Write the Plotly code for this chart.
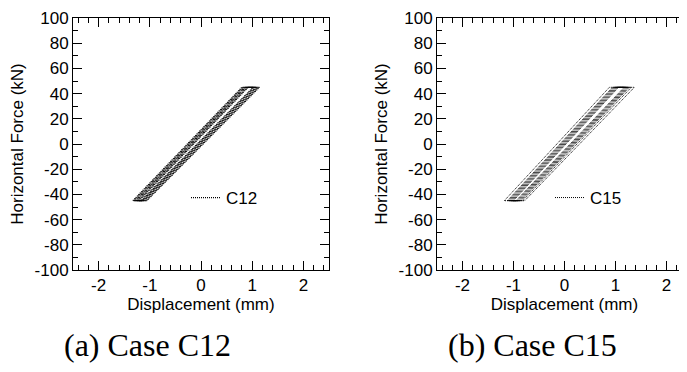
import plotly.graph_objects as go

# ---- data (one loop per entry) ----
# corner displacements (mm) of each hysteresis loop
c12_bottom_left = [-1.33, -1.31, -1.28, -1.26, -1.23, -1.21]
c12_top_left = [0.80, 0.82, 0.85, 0.87, 0.90, 0.92]
c12_top_right = [1.14, 1.12, 1.09, 1.07, 1.04, 1.02]
c12_bottom_right = [-1.06, -1.08, -1.11, -1.13, -1.15, -1.17]
c12_force_max = [45, 45, 45, 45, 45, 45]
c12_force_min = [-45, -45, -45, -45, -45, -45]

c15_bottom_left = [-1.18, -1.12, -1.10, -1.08, -1.06, -1.04, -1.02, -1.00]
c15_top_left = [0.88, 0.94, 0.96, 0.98, 1.00, 1.02, 1.04, 1.06]
c15_top_right = [1.37, 1.31, 1.27, 1.25, 1.23, 1.21, 1.19, 1.17]
c15_bottom_right = [-0.78, -0.82, -0.85, -0.87, -0.89, -0.91, -0.93, -0.95]
c15_force_max = [45, 45, 45, 45, 45, 45, 45, 45]
c15_force_min = [-45, -45, -45, -45, -45, -45, -45, -45]

series_names = ["C12", "C15"]
captions = ["(a) Case C12", "(b) Case C15"]
x_title = "Displacement (mm)"
y_title = "Horizontal Force (kN)"
x_tick_vals = [-2, -1, 0, 1, 2]
x_tick_text = ["-2", "-1", "0", "1", "2"]
y_tick_vals = [-100, -80, -60, -40, -20, 0, 20, 40, 60, 80, 100]
y_tick_text = ["-100", "-80", "-60", "-40", "-20", "0", "20", "40", "60", "80", "100"]


def loops(bl, tl, tr, br, fmax, fmin):
    xs, ys = [], []
    for a, b, c, d, hi, lo in zip(bl, tl, tr, br, fmax, fmin):
        xs += [a, b, c, d, a, None]
        ys += [lo, hi, hi, lo, lo, None]
    return xs, ys


W, H = 687, 372
OFF = 8  # page body margin
fig = go.Figure()

x12, y12 = loops(c12_bottom_left, c12_top_left, c12_top_right, c12_bottom_right,
                 c12_force_max, c12_force_min)
x15, y15 = loops(c15_bottom_left, c15_top_left, c15_top_right, c15_bottom_right,
                 c15_force_max, c15_force_min)

fig.add_trace(go.Scatter(x=x12, y=y12, mode="lines",
                         line=dict(color="black", width=1.3, dash="1px,1px"),
                         name=series_names[0], xaxis="x", yaxis="y", legend="legend"))
fig.add_trace(go.Scatter(x=x15, y=y15, mode="lines",
                         line=dict(color="black", width=1, dash="1px,1px"),
                         name=series_names[1], xaxis="x2", yaxis="y2", legend="legend2"))

font = dict(family="Liberation Sans, Arial, sans-serif", size=17, color="black")


def px_x(p):
    return (p - OFF) / W


def px_y(p):
    return (H - (p - OFF)) / H


def xaxis(domain, rng, anchor):
    return dict(domain=domain, range=rng, anchor=anchor,
                tickmode="array", tickvals=x_tick_vals, ticktext=x_tick_text,
                ticks="inside", ticklen=9, tickwidth=1, tickcolor="black",
                minor=dict(dtick=0.2, tick0=0, ticks="inside", ticklen=5,
                           tickcolor="black", showgrid=False),
                showline=True, linecolor="black", linewidth=1, mirror="ticks",
                showgrid=False, zeroline=False, tickfont=font,
                title=dict(text=x_title, font=font, standoff=0),
                automargin=False)


def yaxis(domain, anchor):
    return dict(domain=domain, range=[-100, 100], anchor=anchor,
                tickmode="array", tickvals=y_tick_vals, ticktext=y_tick_text,
                ticks="inside", ticklen=9, tickwidth=1, tickcolor="black",
                minor=dict(dtick=10, tick0=0, ticks="inside", ticklen=5,
                           tickcolor="black", showgrid=False),
                showline=True, linecolor="black", linewidth=1, mirror="ticks",
                showgrid=False, zeroline=False, tickfont=font,
                title=dict(text=y_title, font=font, standoff=6),
                automargin=False)


ydom = [px_y(270), px_y(18)]
fig.update_layout(
    width=W, height=H,
    margin=dict(l=0, r=0, t=0, b=0),
    paper_bgcolor="white", plot_bgcolor="white",
    font=font,
    xaxis=xaxis([px_x(73), px_x(329)], [-2.5, 2.5], "y"),
    yaxis=yaxis(ydom, "x"),
    xaxis2=xaxis([px_x(437), px_x(692)], [-2.5, 2.5], "y2"),
    yaxis2=yaxis(ydom, "x2"),
    legend=dict(x=px_x(186), y=px_y(198), xanchor="left", yanchor="middle",
                bgcolor="rgba(0,0,0,0)", font=font, borderwidth=0),
    legend2=dict(x=px_x(550), y=px_y(198), xanchor="left", yanchor="middle",
                 bgcolor="rgba(0,0,0,0)", font=font, borderwidth=0),
    showlegend=True,
)

cap_font = dict(family="Liberation Serif, Times New Roman, serif", size=32, color="black")
for cx, txt in zip([147, 532], captions):
    fig.add_annotation(x=px_x(cx), y=px_y(345), xref="paper", yref="paper",
                       text=txt, showarrow=False, font=cap_font,
                       xanchor="center", yanchor="middle")

fig.write_html("out.html")
